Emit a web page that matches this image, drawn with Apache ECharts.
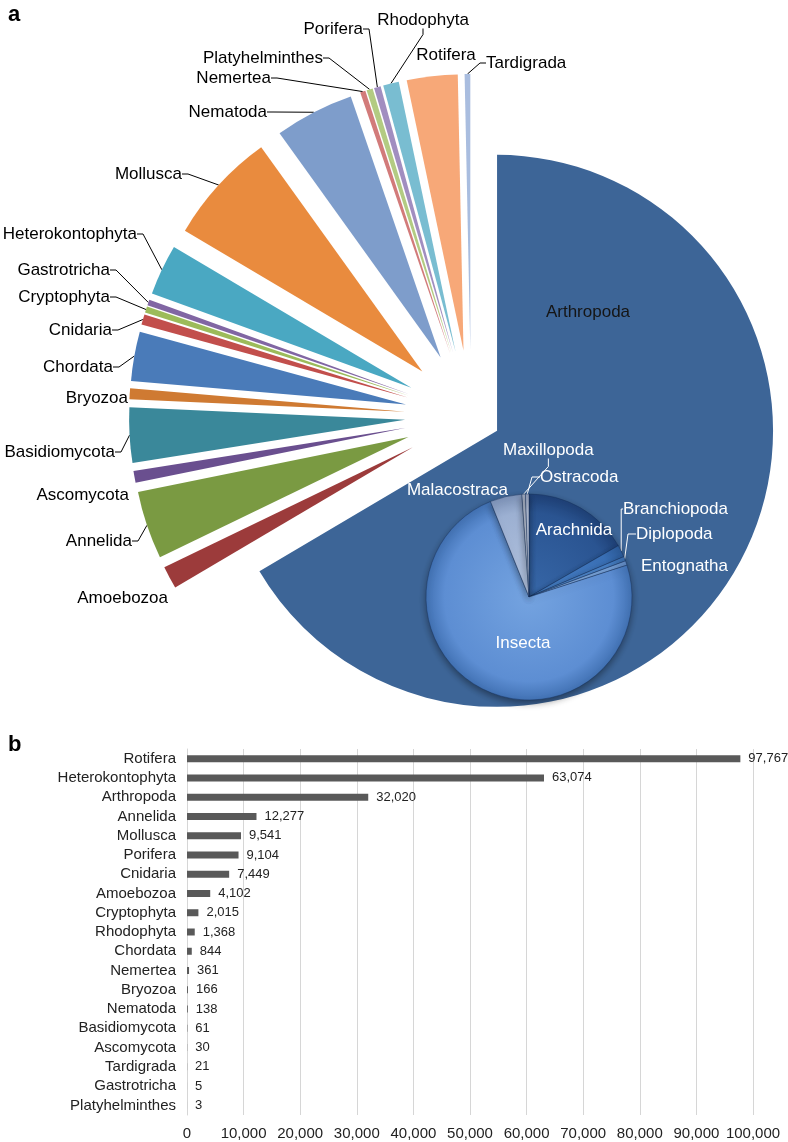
<!DOCTYPE html>
<html>
<head>
<meta charset="utf-8">
<script src="https://cdn.jsdelivr.net/npm/echarts@6/dist/echarts.min.js"></script>
<style>
html,body{margin:0;padding:0;background:#fff;}
#c{width:788px;height:1142px;}
</style>
</head>
<body>
<div id="c"></div>
<script>
// ---- Panel a: share of each phylum (percent of circle) ----
var pieNames = ['Arthropoda','Amoebozoa','Annelida','Ascomycota','Basidiomycota','Bryozoa','Chordata','Cnidaria','Cryptophyta','Gastrotricha','Heterokontophyta','Mollusca','Nematoda','Nemertea','Platyhelminthes','Porifera','Rhodophyta','Rotifera','Tardigrada'];
var pieValues = [66.5,1.33,3.97,0.69,3.22,0.64,2.89,0.61,0.36,0.33,2.97,6.56,4.64,0.31,0.36,0.39,0.92,2.97,0.33];
var pieColors = ['#3d6597','#9c3b3b','#7a9a42','#6a4f8f','#3a889a','#cf7a32','#4a7bb9','#c24f4c','#9cbb5a','#8166a3','#4aa8c2','#e98b3e','#7e9dcb','#d27b7a','#b3cb82','#a18ec0','#79bdd1','#f7a878','#a9bddf'];

// ---- Inset: Arthropoda classes ----
var insetNames = ['Arachnida','Branchiopoda','Diplopoda','Entognatha','Insecta','Malacostraca','Maxillopoda','Ostracoda'];
var insetValues = [16.7,1.9,0.7,0.7,73.9,5.0,0.55,0.55];
var insetColors = [['#3767a8','#2a5491','#1f4177'],['#4a82c8','#3a71b8','#2b5a98'],['#5b93d6','#4a84cb','#3a6cab'],['#8ab2e4','#78a4dc','#5f88c0'],['#74a3e0','#5d8ed3','#4272b4'],['#b3c3de','#9cb0d2','#7e93b8'],['#d2d9e6','#bcc6d8','#9eaac0'],['#c5cdde','#aeb9cf','#909cb5']];

// ---- Panel b: bar chart ----
var barCats = ['Rotifera','Heterokontophyta','Arthropoda','Annelida','Mollusca','Porifera','Cnidaria','Amoebozoa','Cryptophyta','Rhodophyta','Chordata','Nemertea','Bryozoa','Nematoda','Basidiomycota','Ascomycota','Tardigrada','Gastrotricha','Platyhelminthes'];
var barValues = [97767,63074,32020,12277,9541,9104,7449,4102,2015,1368,844,361,166,138,61,30,21,5,3];

// ---- layout (not data): pie geometry and label anchors ----
var PIE_C = [471,416], PIE_R = 276, EXPLODE_MAIN = 30, EXPLODE_OTHERS = 66;
var INSET_C = [529,597], INSET_R = 103;
var mainLabelPos = {
  Arthropoda:[588,312,'center'],
  Tardigrada:[486,63,'left'], Rotifera:[446,55,'center'], Rhodophyta:[423,20,'center'],
  Porifera:[363,29,'right'], Platyhelminthes:[323,58,'right'], Nemertea:[271,78,'right'],
  Nematoda:[267,112,'right'], Mollusca:[182,174,'right'], Heterokontophyta:[137,234,'right'],
  Gastrotricha:[110,270,'right'], Cryptophyta:[110,297,'right'], Cnidaria:[112,330,'right'],
  Chordata:[113,367,'right'], Bryozoa:[128,398,'right'], Basidiomycota:[115,452,'right'],
  Ascomycota:[129,495,'right'], Annelida:[132,541,'right'], Amoebozoa:[168,598,'right']
};
var noLeader = {Arthropoda:1, Rotifera:1, Bryozoa:1, Ascomycota:1, Amoebozoa:1};
var insetLabelPos = {
  Arachnida:[574,530,'center'], Branchiopoda:[623,509,'left'], Diplopoda:[636,534,'left'],
  Entognatha:[641,566,'left'], Insecta:[523,643,'center'], Malacostraca:[508,490,'right'],
  Maxillopoda:[503,450,'left'], Ostracoda:[540,477,'left']
};
function layoutFrom(table, names){
  return function(p){
    var t = table[names[p.dataIndex]];
    if(!t) return {};
    return {x:t[0], y:t[1], align:t[2], verticalAlign:'middle'};
  };
}

var FONT = 'Liberation Sans, Arial, Helvetica, sans-serif';
function fmt(v){ return String(v).replace(/\B(?=(\d{3})+(?!\d))/g, ','); }
var hidden = {color:'rgba(0,0,0,0)'};

// exploded pie: one pie series per slice, each shifted outward along its own mid-angle
var total = pieValues.reduce(function(a,b){return a+b;},0);
var cum = 0;
var mainSeries = pieNames.map(function(name,i){
  var mid = (cum + pieValues[i]/2) / total * 2 * Math.PI;
  cum += pieValues[i];
  var off = i===0 ? EXPLODE_MAIN : EXPLODE_OTHERS;
  var center = [PIE_C[0] + off*Math.sin(mid), PIE_C[1] - off*Math.cos(mid)];
  return {
    type:'pie', name:name, center:center, radius:PIE_R, startAngle:90, clockwise:true,
    silent:true, avoidLabelOverlap:false, minShowLabelAngle:0, z:2,
    label:{show:true, position: i===0 ? 'inside' : 'outside', fontFamily:FONT, fontSize:17, color: i===0 ? '#151515' : '#000'},
    labelLine:{show:!noLeader[name], length:6, length2:6, lineStyle:{color:'#000', width:1}},
    labelLayout:layoutFrom(mainLabelPos, pieNames),
    data: pieNames.map(function(n,j){
      if(j===i) return {name:n, value:pieValues[j], itemStyle:{color:pieColors[j]}};
      return {name:n, value:pieValues[j], itemStyle:hidden, label:{show:false}, labelLine:{show:false}};
    })
  };
});

var insetData = insetNames.map(function(n,i){
  var c = insetColors[i];
  var grad = new echarts.graphic.RadialGradient(INSET_C[0], INSET_C[1], INSET_R,
    [{offset:0, color:c[0]}, {offset:0.82, color:c[1]}, {offset:1, color:c[2]}], true);
  var d = {name:n, value:insetValues[i], itemStyle:{color:grad}};
  if(n==='Arachnida' || n==='Insecta' || n==='Entognatha' || n==='Malacostraca'){ d.labelLine={show:false}; }
  return d;
});

var chart = echarts.init(document.getElementById('c'), null, {renderer:'canvas'});
chart.setOption({
  animation:false,
  backgroundColor:'#fff',
  textStyle:{fontFamily:FONT},
  title:[
    {text:'a', left:3, top:-1, textStyle:{fontFamily:FONT, fontSize:22, fontWeight:'bold', color:'#000'}},
    {text:'b', left:3, top:729, textStyle:{fontFamily:FONT, fontSize:22, fontWeight:'bold', color:'#000'}}
  ],
  grid:{left:187, right:35, top:749, bottom:27},
  xAxis:{type:'value', min:0, max:100000, interval:10000,
    axisLine:{show:false}, axisTick:{show:false},
    splitLine:{show:true, lineStyle:{color:'#d6d6d6', width:1}},
    axisLabel:{fontFamily:FONT, fontSize:15, color:'#222', margin:11, formatter:function(v){return fmt(v);}}},
  yAxis:{type:'category', data:barCats, inverse:true,
    axisLine:{show:true, lineStyle:{color:'#d6d6d6'}}, axisTick:{show:false},
    axisLabel:{fontFamily:FONT, fontSize:15, color:'#222', margin:11, interval:0}},
  series: mainSeries.concat([
    {type:'pie', name:'Arthropoda classes', z:5, center:INSET_C, radius:INSET_R, startAngle:90, clockwise:true,
     silent:true, avoidLabelOverlap:false, minShowLabelAngle:0,
     itemStyle:{borderColor:'rgba(20,45,90,0.6)', borderWidth:0.7, shadowColor:'rgba(0,0,0,0.4)', shadowBlur:7, shadowOffsetY:3},
     label:{show:true, position:'outside', fontFamily:FONT, fontSize:17, color:'#fff'},
     labelLine:{show:true, length:6, length2:8, lineStyle:{color:'#fff', width:1}},
     labelLayout:layoutFrom(insetLabelPos, insetNames),
     data:insetData},
    {type:'bar', name:'Count', data:barValues, barWidth:7,
     itemStyle:{color:'#595959'},
     label:{show:true, position:'right', distance:8, fontFamily:FONT, fontSize:13, color:'#222',
       formatter:function(p){return fmt(p.value);}},
     silent:true}
  ])
});
</script>
</body>
</html>
